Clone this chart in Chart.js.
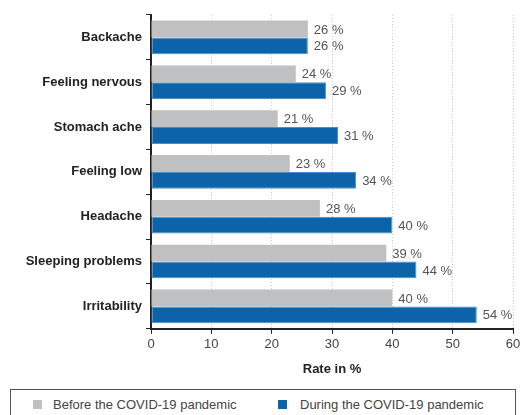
<!DOCTYPE html>
<html>
<head>
<meta charset="utf-8">
<script src="https://cdn.jsdelivr.net/npm/chart.js@4/dist/chart.umd.min.js"></script>
<style>
  html, body { margin: 0; padding: 0; background: #fff; }
  #wrap { position: relative; width: 526px; height: 415px; overflow: hidden; }
  #chart { position: absolute; left: 0; top: 0; }
  .legend {
    position: absolute; left: 10px; top: 389px; width: 506px; height: 40px;
    border: 1px solid #555; box-sizing: border-box;
    font-family: "Liberation Sans", Arial, sans-serif; font-size: 13px; color: #444;
  }
  .legend span { position: absolute; top: 7px; }
  .legend i { position: absolute; top: 10px; width: 9px; height: 9px; }
</style>
</head>
<body>
<div id="wrap">
  <canvas id="chart" width="526" height="381"></canvas>
  <div class="legend">
    <i style="left:22px;background:#bfc0c2"></i><span style="left:42px">Before the COVID-19 pandemic</span>
    <i style="left:267px;background:#0b63a8"></i><span style="left:289px">During the COVID-19 pandemic</span>
  </div>
</div>
<script>
const categories = ["Backache", "Feeling nervous", "Stomach ache", "Feeling low", "Headache", "Sleeping problems", "Irritability"];
const beforePandemic = [26, 24, 21, 23, 28, 39, 40];
const duringPandemic = [26, 29, 31, 34, 40, 44, 54];
const xTicks = [0, 10, 20, 30, 40, 50, 60];

const grayColor = "#bfc0c2";
const blueColor = "#0b63a8";

// value labels to the right of each bar
const valueLabels = {
    id: "valueLabels",
    afterDatasetsDraw(chart) {
        const ctx = chart.ctx;
        ctx.save();
        ctx.font = "13px 'Liberation Sans', Arial, sans-serif";
        ctx.fillStyle = "#555";
        ctx.textBaseline = "middle";
        chart.data.datasets.forEach((ds, i) => {
            chart.getDatasetMeta(i).data.forEach((bar, j) => {
                ctx.fillText(ds.data[j] + " %", bar.x + 6, bar.y + 1);
            });
        });
        ctx.restore();
    }
};

new Chart(document.getElementById("chart"), {
    type: "bar",
    data: {
        labels: categories,
        datasets: [
            {
                label: "Before the COVID-19 pandemic",
                data: beforePandemic,
                backgroundColor: grayColor,
                borderWidth: 0
            },
            {
                label: "During the COVID-19 pandemic",
                data: duringPandemic,
                backgroundColor: blueColor,
                borderColor: "#4a8fcc",
                borderWidth: 1,
                borderSkipped: false
            }
        ]
    },
    options: {
        indexAxis: "y",
        responsive: false,
        animation: false,
        categoryPercentage: 0.75,
        barPercentage: 1,
        layout: { padding: { top: 15, right: 13 } },
        plugins: {
            legend: { display: false },
            tooltip: { enabled: false }
        },
        scales: {
            x: {
                min: 0,
                max: 60,
                afterBuildTicks: (axis) => { axis.ticks = xTicks.map(v => ({ value: v })); },
                grid: {
                    color: "#c8c8c8",
                    lineWidth: 1,
                    tickColor: "#222",
                    tickLength: 5,
                    tickBorderDash: []
                },
                border: { color: "#222", width: 2, dash: [1, 2] },
                ticks: {
                    color: "#444",
                    padding: 3,
                    font: { family: "'Liberation Sans', Arial, sans-serif", size: 13 }
                },
                title: {
                    display: true,
                    text: "Rate in %",
                    color: "#222",
                    padding: { top: 6 },
                    font: { family: "'Liberation Sans', Arial, sans-serif", size: 13, weight: "bold" }
                }
            },
            y: {
                afterFit: (axis) => { axis.width = 151; },
                grid: {
                    offset: true,
                    drawOnChartArea: false,
                    tickColor: "#222",
                    tickLength: 5
                },
                border: { color: "#222", width: 2 },
                ticks: {
                    color: "#222",
                    padding: 4,
                    font: { family: "'Liberation Sans', Arial, sans-serif", size: 13, weight: "bold" }
                }
            }
        }
    },
    plugins: [valueLabels]
});
</script>
</body>
</html>
